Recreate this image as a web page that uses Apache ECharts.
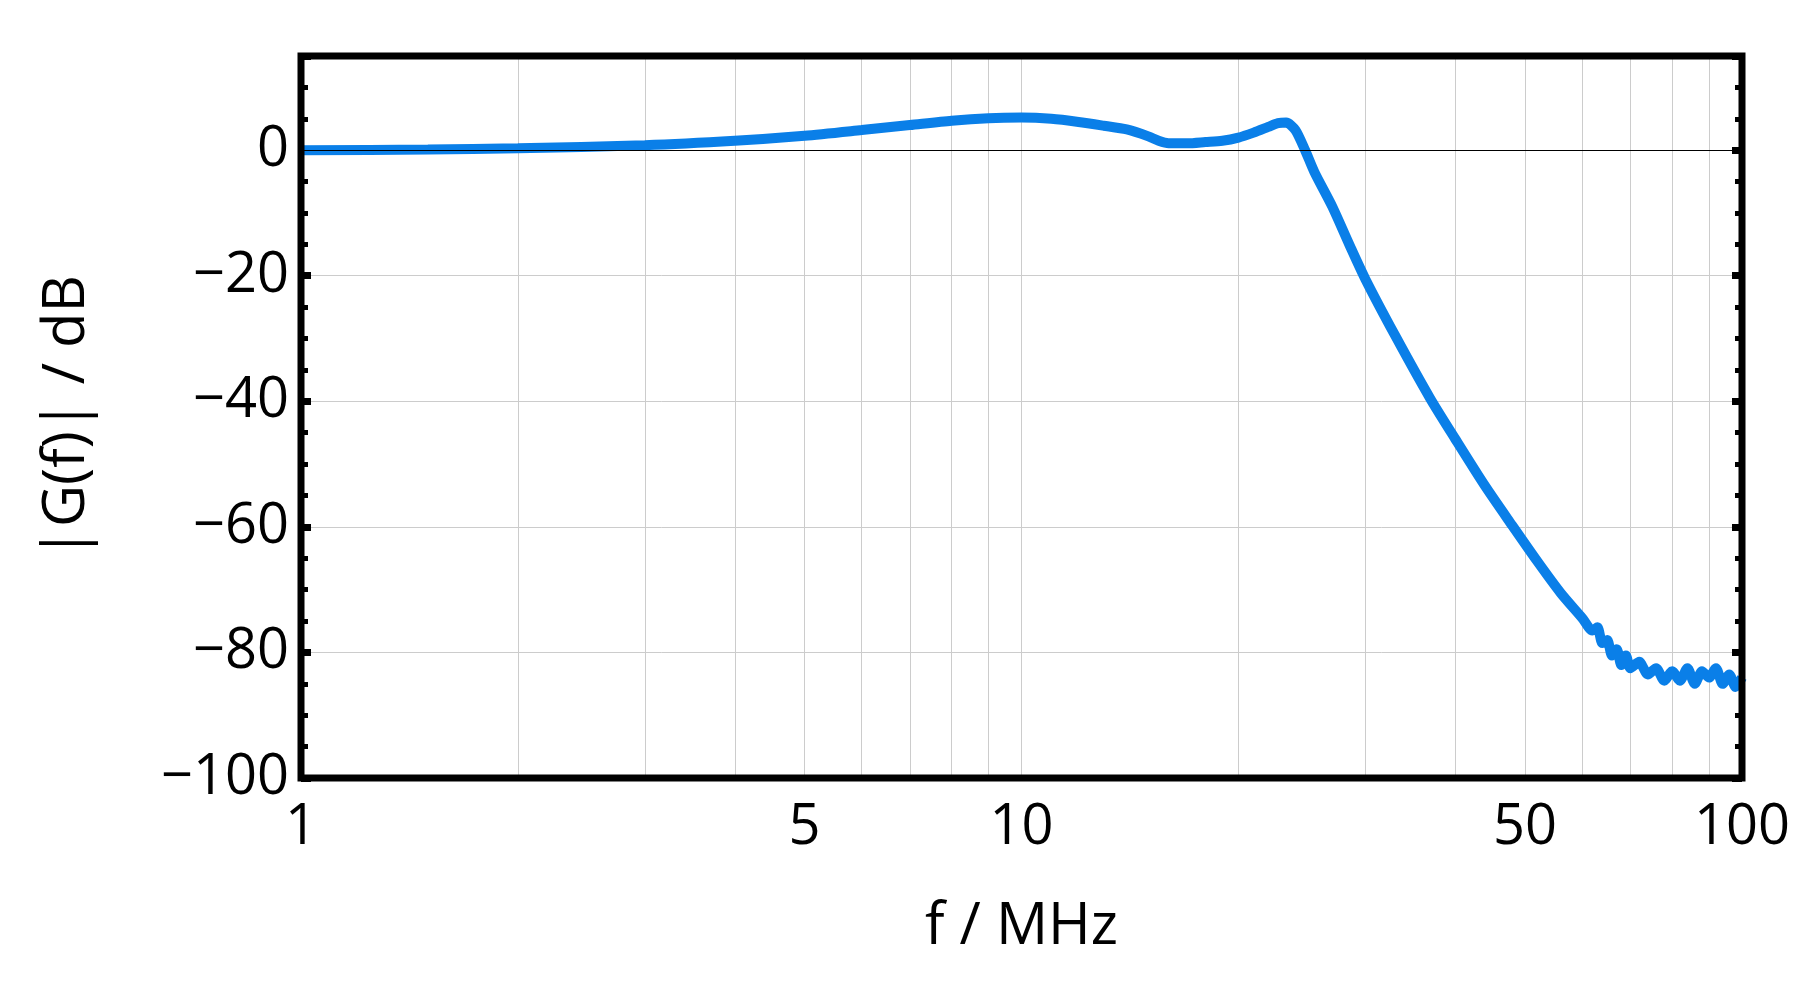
<!DOCTYPE html>
<html>
<head>
<meta charset="utf-8">
<script src="https://cdn.jsdelivr.net/npm/echarts@6/dist/echarts.min.js"></script>
<style>html,body{margin:0;background:#fff}#chart{width:1818px;height:993px}</style>
</head>
<body>
<div id="chart"></div>
<script>
// frequency (MHz) and magnitude (dB)
let freqs = [1, 1.5, 2, 3, 4, 5, 6, 7, 8, 9, 10, 11, 12, 13, 14, 15, 15.5, 16, 17, 18, 19, 20, 21, 22, 22.7, 23.3, 24, 24.75, 25.5, 27, 28.5, 30, 33, 36.9, 40, 44, 48, 52, 56, 60, 62, 63, 64, 65, 66, 67, 68, 69, 70, 72, 74, 76, 78, 80, 82, 84, 86, 88, 90, 92, 94, 96, 98, 100]
let gains = [0, 0.1, 0.3, 0.8, 1.5, 2.3, 3.2, 4, 4.7, 5.1, 5.2, 5, 4.5, 3.9, 3.3, 2.2, 1.5, 1.1, 1.1, 1.3, 1.5, 2, 2.8, 3.7, 4.3, 4.4, 3.2, 0, -3.5, -9, -15, -20.5, -29.5, -39.5, -46, -53.5, -59.8, -65.5, -70.5, -74.5, -76.5, -76, -78.5, -78, -80.5, -79.5, -82, -80.5, -82.5, -81.5, -83.5, -82.5, -84.5, -83, -84.5, -82.5, -85, -83, -84, -82.5, -85, -83.5, -85.5, -84]
let yTicks = [-100, -80, -60, -40, -20, 0]
let xLabels = [1, 5, 10, 50, 100]

let font = '"Open Sans", "Noto Sans", sans-serif'
let data = freqs.map((f, i) => [f, gains[i]])

let chart = echarts.init(document.getElementById('chart'))
let yBase = {
    type: 'value', min: -100, max: 15, interval: 20,
    axisLine: { show: false },
    axisTick: { show: true, inside: true, length: 10, lineStyle: { color: '#000', width: 7 } },
    minorTick: { show: true, splitNumber: 4, length: 7, lineStyle: { color: '#000', width: 5 } },
}
chart.setOption({
    animation: false,
    grid: { left: 301, right: 76, top: 56, bottom: 215 },
    xAxis: {
        type: 'log', logBase: 10, min: 1, max: 100,
        name: 'f / MHz', nameLocation: 'middle', nameGap: 120,
        nameTextStyle: { fontFamily: font, fontSize: 58, color: '#000' },
        axisLine: { show: false },
        axisTick: { show: false },
        minorTick: { show: true, splitNumber: 9, length: 0 },
        minorSplitLine: { show: true, lineStyle: { color: '#ccc', width: 1 } },
        splitLine: { show: true, lineStyle: { color: '#ccc', width: 1 } },
        axisLabel: { show: false }
    },
    yAxis: [Object.assign({}, yBase, {
        name: '|G(f)| / dB', nameLocation: 'middle', nameGap: 205,
        nameTextStyle: { fontFamily: font, fontSize: 58, color: '#000' },
        splitLine: { show: true, lineStyle: { color: '#ccc', width: 1 } },
        axisLabel: {
            fontFamily: font, fontSize: 56, color: '#000', margin: 12,
            formatter: v => v > 0 ? '' : String(v).replace('-', '\u2212')
        }
    }), Object.assign({}, yBase, {
        position: 'right', splitLine: { show: false }, axisLabel: { show: false }
    })],
    series: [{
        type: 'line', data: data, showSymbol: false, smooth: 0.25,
        lineStyle: { color: '#0a7fe8', width: 10 },
        markLine: {
            silent: true, symbol: 'none', label: { show: false },
            lineStyle: { color: '#000', width: 1.2, type: 'solid' },
            data: [{ yAxis: 0 }]
        }
    }],
    graphic: [{
        type: 'rect', shape: { x: 301, y: 56, width: 1441, height: 722 },
        style: { fill: 'none', stroke: '#000', lineWidth: 7 }, z: 100
    }]
})

// x labels at 1, 5, 10, 50, 100 placed through the axis scale
let xLabelGraphics = xLabels.map(v => {
    let p = chart.convertToPixel({ xAxisIndex: 0, yAxisIndex: 0 }, [v, -100])
    return {
        type: 'text', x: p[0], y: p[1] + 22, z: 100,
        style: { text: String(v), font: '56px ' + font, fill: '#000', align: 'center', verticalAlign: 'top' }
    }
})
chart.setOption({ graphic: [{}].concat(xLabelGraphics) })
</script>
</body>
</html>
